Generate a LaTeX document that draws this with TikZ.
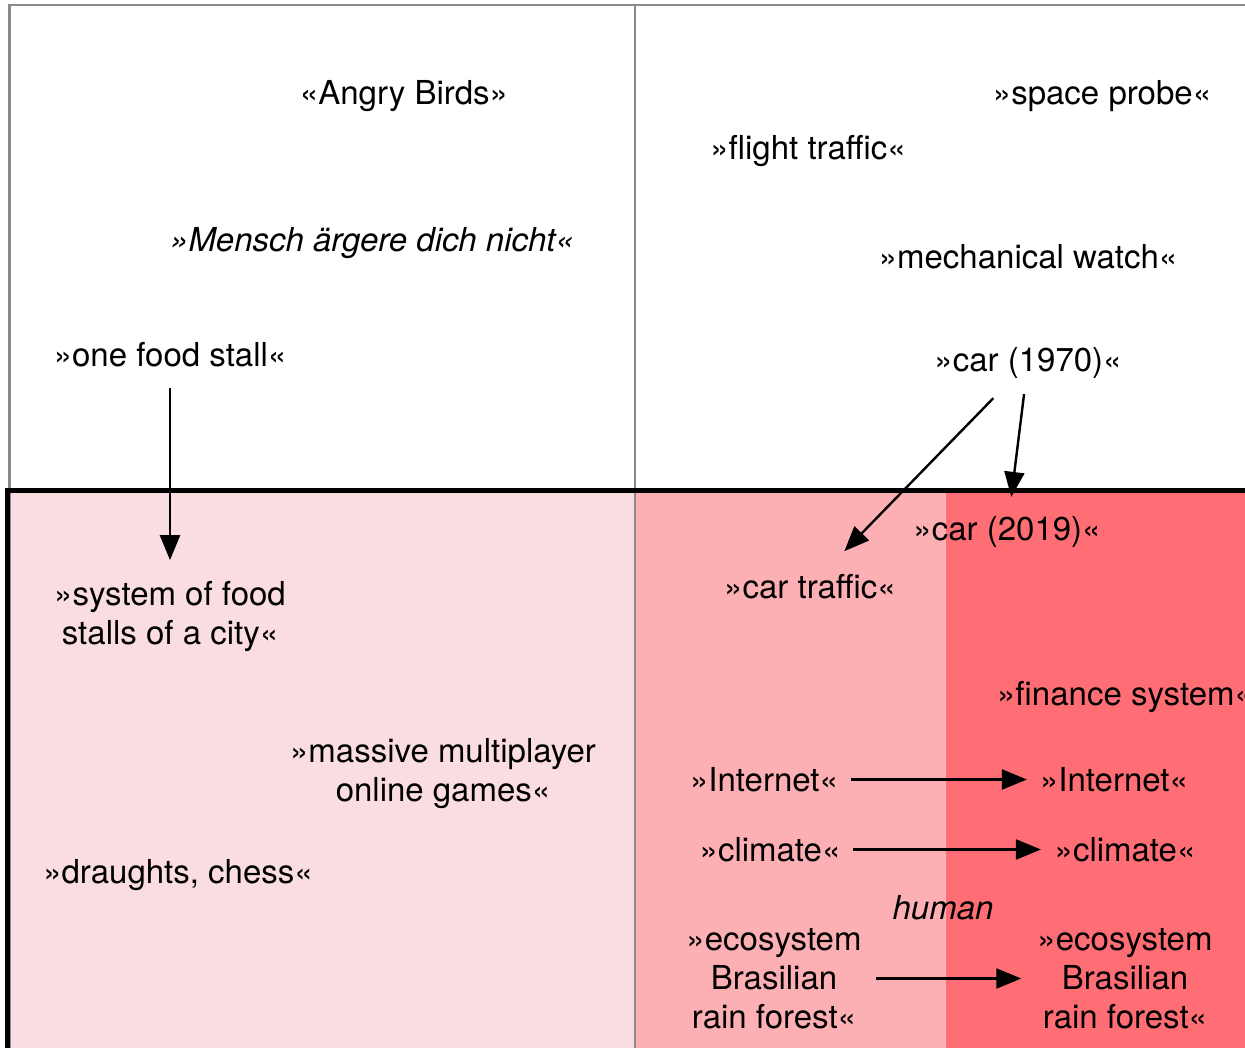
\documentclass[tikz,border=0pt]{standalone}
\usepackage{fontspec}
\setmainfont{TeX Gyre Heros}
\usetikzlibrary{arrows.meta}
\definecolor{pinkA}{HTML}{FADDE1}
\definecolor{pinkB}{HTML}{FDB0B4}
\definecolor{pinkC}{HTML}{FF6E74}
\definecolor{frame}{HTML}{8A8A8A}
\tikzset{
  lbl/.style={inner sep=2pt, align=center, yshift=-1.5pt, font=\fontsize{33}{39}\selectfont},
  arr/.style={line width=2.4pt, -{Triangle[length=25pt,width=20pt]}},
  grayline/.style={draw=frame, line width=2.2pt},
  boldline/.style={draw=black, line width=5pt},
}
\begin{document}
\begin{tikzpicture}[x=1pt,y=-1pt]
\useasboundingbox (0,0) rectangle (1245,1048);
\clip (0,0) rectangle (1245,1048);
% fills
\fill[pinkA] (9,490) rectangle (635,1060);
\fill[pinkB] (635,490) rectangle (946,1060);
\fill[pinkC] (946,490) rectangle (1260,1060);
% gray frame
\draw[grayline] (9.5,1060) -- (9.5,5) -- (1260,5);
\draw[grayline] (635,5) -- (635,1060);
% bold lines
\draw[boldline] (7,1060) -- (7,490.5) -- (1260,490.5);
% texts
\node[lbl] (angry) at (404,95) {«Angry Birds»};
\node[lbl] (probe) at (1102,95) {»space probe«};
\node[lbl] (flight) at (808,150) {»flight traffic«};
\node[lbl, font=\fontsize{33}{39}\selectfont\itshape] (mensch) at (372,242) {»Mensch ärgere dich nicht«};
\node[lbl] (watch) at (1028,255) {»mechanical watch«};
\node[lbl] (stall) at (170,353) {»one food stall«};
\node[lbl] (car70) at (1028,361) {»car (1970)«};
\node[lbl] (car19) at (1007,530) {»car (2019)«};
\node[lbl] (traffic) at (810,585) {»car traffic«};
\node[lbl] (system) at (170,615) {»system of food\\stalls of a city«};
\node[lbl] (mmog) at (443,772) {»massive multiplayer\\online games«};
\node[lbl] (chess) at (178,874) {»draughts, chess«};
\node[lbl] (finance) at (1125,696) {»finance system«};
\node[lbl] (netL) at (764,778) {»Internet«};
\node[lbl] (netR) at (1114,778) {»Internet«};
\node[lbl] (climL) at (770,848) {»climate«};
\node[lbl] (climR) at (1125,848) {»climate«};
\node[lbl, font=\fontsize{33}{39}\selectfont\itshape] (human) at (943,906) {human};
\node[lbl] (ecoL) at (774,977) {»ecosystem\\Brasilian\\rain forest«};
\node[lbl] (ecoR) at (1125,977) {»ecosystem\\Brasilian\\rain forest«};
% arrows
\draw[arr, shorten <=19pt, shorten >=19pt] (stall) -- (system);
\draw[arr, shorten <=25pt, shorten >=29pt] (car70) -- (traffic);
\draw[arr, shorten <=14pt, shorten >=17pt] (car70) -- (car19);
\draw[arr, shorten <=11pt, shorten >=11pt] (netL) -- (netR);
\draw[arr, shorten <=10.5pt, shorten >=11.5pt] (climL) -- (climR);
\draw[arr, shorten <=12pt, shorten >=14pt] (ecoL) -- (ecoR);
\end{tikzpicture}
\end{document}
